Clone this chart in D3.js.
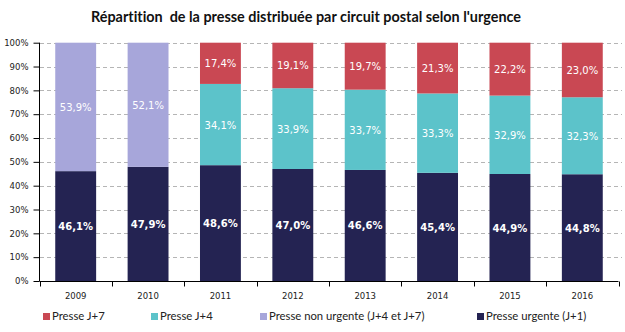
<!DOCTYPE html>
<html>
<head>
<meta charset="utf-8">
<script src="https://cdn.jsdelivr.net/npm/d3@7"></script>
<style>
  body { margin: 0; background: #fff; }
  svg { display: block; }
  text { font-variant-ligatures: none; }
</style>
</head>
<body>
<svg id="chart" width="625" height="332"></svg>
<script>
// share of press delivered by postal route, by urgency (in %)
const years = ['2009', '2010', '2011', '2012', '2013', '2014', '2015', '2016'];
const urgente = [46.1, 47.9, 48.6, 47.0, 46.6, 45.4, 44.9, 44.8];
const nonUrgente = [53.9, 52.1, 0, 0, 0, 0, 0, 0];
const j4 = [0, 0, 34.1, 33.9, 33.7, 33.3, 32.9, 32.3];
const j7 = [0, 0, 17.4, 19.1, 19.7, 21.3, 22.2, 23.0];
const yTicks = [0, 10, 20, 30, 40, 50, 60, 70, 80, 90, 100];

const keys = ['urgente', 'nonUrgente', 'j4', 'j7'];
const colors = {
    urgente: '#242352',
    nonUrgente: '#a7a6da',
    j4: '#5cc3ca',
    j7: '#c94853'
};
const legendItems = [
    {key: 'j7', label: 'Presse J+7', x: 43},
    {key: 'j4', label: 'Presse J+4', x: 151},
    {key: 'nonUrgente', label: 'Presse non urgente (J+4 et J+7)', x: 260},
    {key: 'urgente', label: 'Presse urgente (J+1)', x: 477}
];

const data = years.map((y, i) => ({
    year: y, urgente: urgente[i], nonUrgente: nonUrgente[i], j4: j4[i], j7: j7[i]
}));

const svg = d3.select('#chart');

const xScale = d3.scaleBand()
    .domain(years)
    .range([39.5, 618.5])
    .paddingInner(0.435)
    .paddingOuter(0.2175);

const yScale = d3.scaleLinear()
    .domain([0, 100])
    .range([281, 42.7]);

// gridlines
svg.append('g')
    .selectAll('line')
    .data(yTicks.filter(d => d > 0))
    .enter()
    .append('line')
    .attr('x1', 40)
    .attr('x2', 622)
    .attr('y1', d => Math.round(yScale(d)) + 0.5)
    .attr('y2', d => Math.round(yScale(d)) + 0.5)
    .attr('stroke', '#b5b5b5')
    .attr('stroke-dasharray', '4,3');

const stackLayout = d3.stack().keys(keys);
const series = stackLayout(data);

const layers = svg.append('g')
    .selectAll('g')
    .data(series)
    .enter()
    .append('g')
    .attr('fill', d => colors[d.key]);

layers.selectAll('rect')
    .data(d => d)
    .enter()
    .append('rect')
    .attr('x', d => xScale(d.data.year))
    .attr('width', xScale.bandwidth())
    .attr('y', d => yScale(Math.min(d[1], 100)))
    .attr('height', d => yScale(d[0]) - yScale(Math.min(d[1], 100)));

// value labels
const fmt = v => d3.format('.1f')(v).replace('.', ',') + '%';
series.forEach(s => {
    svg.append('g')
        .selectAll('text')
        .data(s.filter(d => d[1] - d[0] > 0))
        .enter()
        .append('text')
        .attr('x', d => xScale(d.data.year) + xScale.bandwidth() / 2)
        .attr('y', d => yScale((d[0] + d[1]) / 2) + 1)
        .attr('text-anchor', 'middle')
        .attr('dominant-baseline', 'middle')
        .attr('fill', '#fff')
        .attr('font-family', 'DejaVu Sans, Verdana, sans-serif')
        .attr('font-size', 10)
        .attr('font-weight', s.key === 'urgente' ? 'bold' : 'normal')
        .text(d => fmt(d[1] - d[0]));
});

// axes
const yAxis = d3.axisLeft(yScale)
    .tickValues(yTicks)
    .tickFormat(d => d + '%')
    .tickSize(6)
    .tickPadding(5);

svg.append('g')
    .attr('transform', 'translate(39.5,0)')
    .call(yAxis)
    .call(g => g.select('.domain').attr('d', 'M0,' + yScale(100) + 'V' + yScale(0)))
    .call(g => g.selectAll('text')
        .attr('font-family', 'DejaVu Sans, Verdana, sans-serif')
        .attr('font-size', 8.5)
        .attr('fill', '#222'));

const xAxis = d3.axisBottom(xScale)
    .tickSize(0)
    .tickPadding(11);

const xg = svg.append('g')
    .attr('transform', 'translate(0,281.5)')
    .call(xAxis);
xg.select('.domain').attr('d', 'M39.5,0H618.5');
xg.selectAll('text')
    .attr('font-family', 'DejaVu Sans, Verdana, sans-serif')
    .attr('font-size', 8.5)
    .attr('fill', '#222');

// category separators below the axis
xg.selectAll('.sep')
    .data(years.concat(['end']))
    .enter()
    .append('line')
    .attr('x1', (d, i) => Math.round(39.5 + i * xScale.step()) + 0.5)
    .attr('x2', (d, i) => Math.round(39.5 + i * xScale.step()) + 0.5)
    .attr('y1', 0)
    .attr('y2', 5)
    .attr('stroke', '#000');

// title
svg.append('text')
    .attr('x', 306)
    .attr('y', 22)
    .attr('text-anchor', 'middle')
    .attr('font-family', 'Lato, Open Sans, sans-serif')
    .attr('font-weight', 'bold')
    .attr('font-size', 14.4)
    .attr('fill', '#111')
    .attr('xml:space', 'preserve')
    .text("Répartition  de la presse distribuée par circuit postal selon l'urgence");

// legend
const legend = svg.append('g')
    .selectAll('g')
    .data(legendItems)
    .enter()
    .append('g')
    .attr('transform', d => 'translate(' + d.x + ',317)');

legend.append('rect')
    .attr('x', 0)
    .attr('y', -4)
    .attr('width', 7)
    .attr('height', 7)
    .attr('fill', d => colors[d.key]);

legend.append('text')
    .attr('x', 9)
    .attr('y', 0)
    .attr('dominant-baseline', 'middle')
    .attr('font-family', 'Lato, Open Sans, sans-serif')
    .attr('font-size', 11.3)
    .attr('fill', '#222')
    .text(d => d.label);
</script>
</body>
</html>
